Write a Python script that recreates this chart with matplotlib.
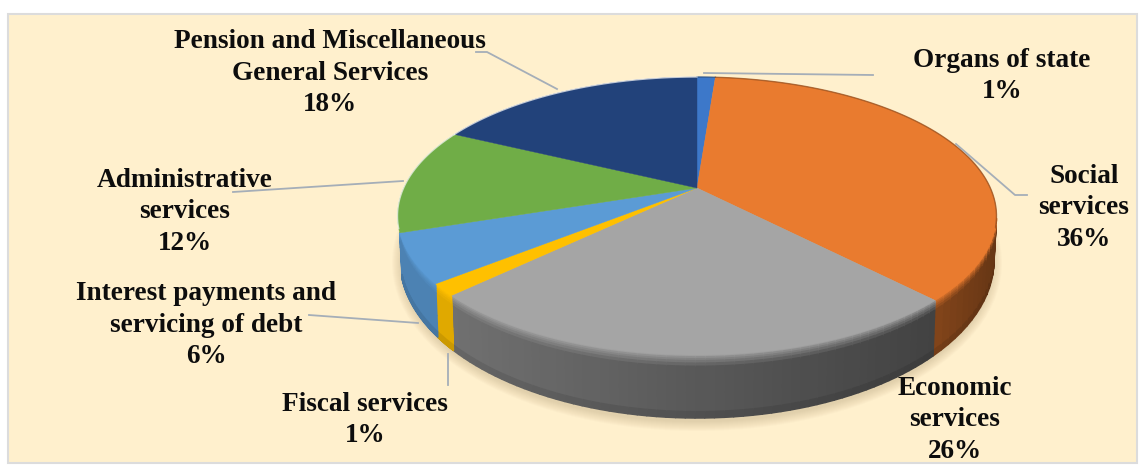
#!/usr/bin/env python3
# pseudo 3D pie drawn on a pixel axes
import numpy as np
import matplotlib
matplotlib.use('Agg')
import matplotlib.pyplot as plt
from matplotlib.patches import Polygon, Rectangle, Ellipse
from matplotlib.collections import PolyCollection

# slices, clockwise from 12 o'clock
names = ['Organs of state', 'Social\nservices', 'Economic\nservices', 'Fiscal services',
         'Interest payments and\nservicing of debt', 'Administrative\nservices',
         'Pension and Miscellaneous\nGeneral Services']
percent_labels = ['1%', '36%', '26%', '1%', '6%', '12%', '18%']
slice_sizes = [1.2, 36.6, 25.0, 1.4, 5.7, 12.3, 17.8]

colors = ['#3d78c9', '#e97b2f', '#a5a5a5', '#ffc000', '#5b9bd5', '#70ad47', '#22427a']
# brightness of the side wall, left end and right end of each slice
side_shade = [(.9, .9), (.56, .44), (.68, .40), (.88, .88), (.84, .84), (.8, .8), (.6, .6)]

label_pos = [(1002, 76), (1084, 208), (955, 420), (365, 420), (206.5, 325), (185, 212), (330, 73)]
leaders = [[(704, 73), (873, 75)],
           [(956, 144), (1015, 195), (1027, 195)],
           [],
           [(448, 354), (448, 385)],
           [(418, 323), (309, 315)],
           [(403, 181), (233, 192)],
           [(557, 89), (487, 52), (476, 52)]]

CX, CY, RX, RY = 697, 216, 299.5, 139
BX, BY, BRY = 297, 260, 158
APEX = 0.2014  # how far back the pie's centre looks, perspective


def project(frac):
    # fraction of the pie -> normalised ellipse position, with perspective
    a = 2 * np.pi * frac
    x, y = np.sin(a), np.cos(a)
    d = 1 + APEX * y
    return x * np.sqrt(1 - APEX ** 2) / d, (y + APEX) / d


def to_top(x, y):
    return CX + RX * x, CY - RY * y


def to_bottom(x, y):
    return CX + BX * x, BY - BRY * y


def mix(c, f):
    rgb = np.array(matplotlib.colors.to_rgb(c))
    return np.clip(rgb * f, 0, 1)


fig = plt.figure(figsize=(11.45, 4.75), dpi=100)
ax = fig.add_axes([0, 0, 1, 1])
ax.set_xlim(0, 1145)
ax.set_ylim(475, 0)
ax.axis('off')

ax.add_patch(Rectangle((8, 14), 1129, 449, fc='#fff0cd', ec='#dcdcdc', lw=1.5, zorder=0))

# soft shadow
for i in range(10):
    ax.add_patch(Ellipse((CX, BY + 3), 2 * (BX + 8 - i), 2 * (BRY + 10 - i),
                         fc='#a08c64', ec='none', alpha=.03, zorder=1))

edges = np.concatenate([[0], np.cumsum(slice_sizes)]) / sum(slice_sizes)

# side wall first
rows = np.array([0, .03, .06, .09, .13, .18, .3, .6, .9, 1.0])
for i in range(len(slice_sizes)):
    ts = np.linspace(edges[i], edges[i + 1], 60)
    xs, ys = project(ts)
    keep = (ys < .02) & ((xs > 0) | (ys < -.12))
    if keep.sum() < 2:
        continue
    xs, ys = xs[keep], ys[keep]
    polys, cols = [], []
    for j in range(len(xs) - 1):
        p = (xs[j] + xs[j + 1]) / 2
        k = (p - xs.min()) / (xs.max() - xs.min())
        s = side_shade[i][0] + (side_shade[i][1] - side_shade[i][0]) * k
        for r in range(len(rows) - 1):
            f0, f1 = rows[r], rows[r + 1]
            pts = []
            for xx, yy, f in [(xs[j], ys[j], f0), (xs[j + 1], ys[j + 1], f0),
                              (xs[j + 1], ys[j + 1], f1), (xs[j], ys[j], f1)]:
                tx, ty = to_top(xx, yy)
                bx, by = to_bottom(xx, yy)
                pts.append((tx + (bx - tx) * f, ty + (by - ty) * f))
            polys.append(pts)
            fm = (f0 + f1) / 2
            if fm < .2:
                b = 1.04 + (s - 1.04) * min(fm / .2, 1) ** .7
            else:
                b = s * (1 - .12 * max(fm - .75, 0) / .25)
            cols.append(mix(colors[i], b))
    ax.add_collection(PolyCollection(polys, facecolors=cols, edgecolors=cols, linewidths=1.1, zorder=2))

# top face
for i in range(len(slice_sizes)):
    ts = np.linspace(edges[i], edges[i + 1], 80)
    xs, ys = project(ts)
    tx, ty = to_top(xs, ys)
    ax0, ay0 = to_top(0, APEX)
    pts = [(ax0, ay0)] + list(zip(tx, ty))
    ax.add_patch(Polygon(pts, closed=True, fc=colors[i], ec=colors[i], lw=.3, zorder=3))
    # thin darker rim at the back and right
    back = ys > -.1
    if back.sum() > 1:
        rim = '#f4f4f4' if xs[back].mean() < -.2 else mix(colors[i], .62)
        ax.plot(tx[back], ty[back], color=rim, lw=1, alpha=.7, zorder=4)

# leader lines
for pts in leaders:
    if pts:
        ax.plot([p[0] for p in pts], [p[1] for p in pts], color='#a5aeb8', lw=1.3, zorder=5)

# labels
for name, pct, pos in zip(names, percent_labels, label_pos):
    ax.text(pos[0], pos[1], name + '\n' + pct, ha='center', va='center', ma='center',
            family='Liberation Serif', fontweight='bold', fontsize=19.6, linespacing=1.36,
            color='#0d0d0d', zorder=6)

fig.savefig('out.png', dpi=100)
